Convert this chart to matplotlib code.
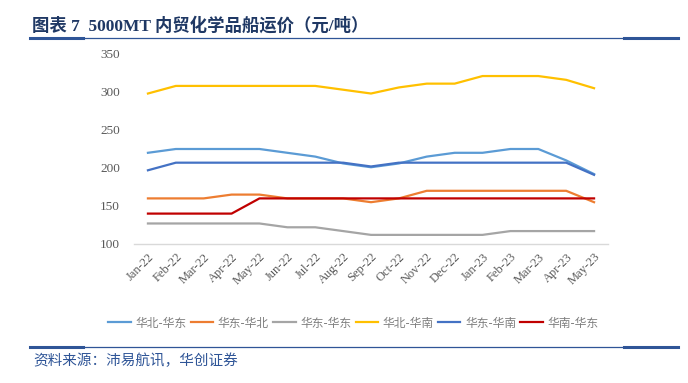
import matplotlib
matplotlib.use("Agg")
import matplotlib.pyplot as plt
from matplotlib.lines import Line2D

months = ["Jan-22", "Feb-22", "Mar-22", "Apr-22", "May-22", "Jun-22", "Jul-22", "Aug-22",
          "Sep-22", "Oct-22", "Nov-22", "Dec-22", "Jan-23", "Feb-23", "Mar-23", "Apr-23", "May-23"]

hb_hd = [220, 225, 225, 225, 225, 220, 215, 206, 201, 206, 215, 220, 220, 225, 225, 210, 192]
hd_hb = [160, 160, 160, 165, 165, 160, 160, 160, 155, 160, 170, 170, 170, 170, 170, 170, 155]
hd_hd = [127, 127, 127, 127, 127, 122, 122, 117, 112, 112, 112, 112, 112, 117, 117, 117, 117]
hb_hn = [298, 308, 308, 308, 308, 308, 308, 303, 298, 306, 311, 311, 321, 321, 321, 316, 305]
hd_hn = [197, 207, 207, 207, 207, 207, 207, 207, 202, 207, 207, 207, 207, 207, 207, 207, 191]
hn_hd = [140, 140, 140, 140, 160, 160, 160, 160, 160, 160, 160, 160, 160, 160, 160, 160, 160]

series_names = ["华北-华东", "华东-华北", "华东-华东", "华北-华南", "华东-华南", "华南-华东"]
series_values = [hb_hd, hd_hb, hd_hd, hb_hn, hd_hn, hn_hd]
colors = ["#5B9BD5", "#ED7D31", "#A5A5A5", "#FFC000", "#4472C4", "#C00000"]

y_ticks = [100, 150, 200, 250, 300, 350]

W, H = 688, 383
fig = plt.figure(figsize=(W / 100, H / 100), dpi=100)

ax = fig.add_axes([134 / W, 1 - 244 / H, (608 - 134) / W, (244 - 54) / H])
x = list(range(len(months)))
for name, vals, c in zip(series_names, series_values, colors):
    ax.plot(x, vals, color=c, lw=1.6, label=name, solid_joinstyle="round")

ax.set_xlim(-0.5, len(months) - 0.5)
ax.set_ylim(100, 350)
ax.set_yticks(y_ticks)
ax.set_xticks(x)
ax.set_xticklabels(months, rotation=45, ha="right", va="top", rotation_mode="anchor",
                   fontsize=9, color="#595959", family="Liberation Serif")
ax.set_yticklabels([str(v) for v in y_ticks], fontsize=9.5, color="#595959", family="Liberation Serif")
for s in ["top", "right", "left"]:
    ax.spines[s].set_visible(False)
ax.spines["bottom"].set_color("#D9D9D9")
ax.spines["bottom"].set_linewidth(1.0)
ax.tick_params(axis="both", length=0)
ax.tick_params(axis="x", pad=5)
ax.tick_params(axis="y", pad=10)
ax.patch.set_alpha(0)

handles = [Line2D([0], [0], color=c, lw=1.6) for c in colors]
leg = fig.legend(handles, series_names, loc="center", bbox_to_anchor=(353.5 / W, 1 - 323 / H),
                 ncol=6, frameon=False, handlelength=1.9, handletextpad=0.4, columnspacing=0.35,
                 prop={"family": "Noto Sans CJK SC", "size": 8.5})
for t in leg.get_texts():
    t.set_color("#7F7F7F")

# Title
title_color = "#1F3864"
fig.text(32 / W, 1 - 26 / H, "图表 7  5000MT 内贸化学品船运价（元/吨）", fontsize=12.5, fontweight="bold",
         color=title_color, family=["Liberation Serif", "Noto Sans CJK SC"], ha="left", va="center")

line_color = "#2F5597"
# top rule
fig.add_artist(Line2D([30 / W, 624 / W], [1 - 37.5 / H] * 2, color=line_color, lw=0.9))
fig.add_artist(Line2D([30 / W, 83 / W], [1 - 37.5 / H] * 2, color=line_color, lw=2.2))
fig.add_artist(Line2D([624 / W, 678 / W], [1 - 37.5 / H] * 2, color=line_color, lw=2.2))
# bottom rule
fig.add_artist(Line2D([30 / W, 624 / W], [1 - 346.5 / H] * 2, color=line_color, lw=0.9))
fig.add_artist(Line2D([30 / W, 83 / W], [1 - 346.5 / H] * 2, color=line_color, lw=2.2))
fig.add_artist(Line2D([624 / W, 678 / W], [1 - 346.5 / H] * 2, color=line_color, lw=2.2))

fig.text(33 / W, 1 - 361 / H, "资料来源：沛易航讯，华创证券", fontsize=10.5, style="italic",
         color="#2F5597", family="Noto Sans CJK SC", ha="left", va="center")

fig.savefig("out.png", dpi=100)
